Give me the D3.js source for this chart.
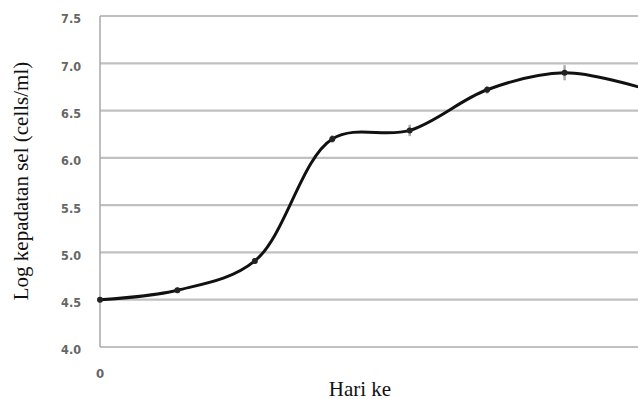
<!DOCTYPE html>
<html>
<head>
<meta charset="utf-8">
<script src="https://cdn.jsdelivr.net/npm/d3@7"></script>
<style>
  body { margin: 0; background: #fff; }
  svg { display: block; }
</style>
</head>
<body>
<div id="pic"></div>
<script>
// days and log cell density
var days = [0, 1, 2, 3, 4, 5, 6, 7];
var logDensity = [4.5, 4.6, 4.91, 6.2, 6.29, 6.72, 6.9, 6.74];
var errBar = [0.03, 0.03, 0.03, 0.04, 0.06, 0.04, 0.08, 0.03];
var yTicks = [4.0, 4.5, 5.0, 5.5, 6.0, 6.5, 7.0, 7.5];
var xTickLabels = ["0", "1", "2", "3", "4", "5", "6"];

var width = 638, height = 399;
var tickFont = "'Liberation Sans Narrow', 'DejaVu Sans Condensed', Arial, sans-serif";
var titleFont = "'Liberation Serif', 'Times New Roman', serif";

var svg = d3.select("#pic").append("svg")
    .attr("width", width)
    .attr("height", height);

var x = d3.scaleLinear().domain([0, 7]).range([100, 642]);
var y = d3.scaleLinear().domain([4.0, 7.5]).range([347, 16]);

// gridlines
svg.append("g")
    .selectAll("line")
    .data(yTicks)
    .enter().append("line")
    .attr("x1", 100)
    .attr("x2", width)
    .attr("y1", function(d) { return y(d); })
    .attr("y2", function(d) { return y(d); })
    .style("stroke", "#c0c0c0")
    .style("stroke-width", 2.2);

// y axis line
svg.append("line")
    .attr("x1", 100).attr("x2", 100)
    .attr("y1", y(7.5)).attr("y2", y(4.0))
    .style("stroke", "#a8a8a8")
    .style("stroke-width", 1.5);

// y tick labels
svg.append("g")
    .selectAll("text")
    .data(yTicks)
    .enter().append("text")
    .attr("x", 81)
    .attr("y", function(d) { return y(d) + 3; })
    .attr("dy", ".35em")
    .attr("text-anchor", "end")
    .style("font-family", tickFont)
    .style("font-size", "12.5px")
    .style("font-weight", "bold")
    .style("fill", "#666")
    .text(function(d) { return d.toFixed(1); });

// x tick labels, the ones after 0 are cut off in the original
svg.append("clipPath").attr("id", "xcut")
    .append("rect").attr("x", 110).attr("y", 0).attr("width", width).attr("height", 369);

svg.append("text")
    .attr("x", x(0))
    .attr("y", 378)
    .attr("text-anchor", "middle")
    .style("font-family", tickFont)
    .style("font-size", "13px")
    .style("font-weight", "bold")
    .style("fill", "#666")
    .text(xTickLabels[0]);

svg.append("g")
    .attr("clip-path", "url(#xcut)")
    .selectAll("text")
    .data(xTickLabels.slice(1))
    .enter().append("text")
    .attr("x", function(d, i) { return x(i + 1); })
    .attr("y", 378)
    .attr("text-anchor", "middle")
    .style("font-family", tickFont)
    .style("font-size", "13px")
    .style("font-weight", "bold")
    .style("fill", "#666")
    .text(function(d) { return d; });

// axis titles
svg.append("text")
    .attr("transform", "translate(28,181) rotate(-90)")
    .attr("text-anchor", "middle")
    .style("font-family", titleFont)
    .style("font-size", "21px")
    .style("fill", "#111")
    .text("Log kepadatan sel (cells/ml)");

svg.append("text")
    .attr("x", 360)
    .attr("y", 396)
    .attr("text-anchor", "middle")
    .style("font-family", titleFont)
    .style("font-size", "21px")
    .style("fill", "#111")
    .text("Hari ke");

var points = days.map(function(d, i) { return { day: d, v: logDensity[i], e: errBar[i] }; });

// error bars
svg.append("g")
    .selectAll("line")
    .data(points)
    .enter().append("line")
    .attr("x1", function(d) { return x(d.day); })
    .attr("x2", function(d) { return x(d.day); })
    .attr("y1", function(d) { return y(d.v + d.e); })
    .attr("y2", function(d) { return y(d.v - d.e); })
    .style("stroke", "#aaa")
    .style("stroke-width", 2.5);

// smoothed line
var line = d3.line()
    .x(function(d) { return x(d.day); })
    .y(function(d) { return y(d.v); })
    .curve(d3.curveCatmullRom.alpha(0.5));

svg.append("path")
    .datum(points)
    .attr("d", line)
    .style("fill", "none")
    .style("stroke", "#111")
    .style("stroke-width", 3);

// markers
svg.append("g")
    .selectAll("circle")
    .data(points)
    .enter().append("circle")
    .attr("cx", function(d) { return x(d.day); })
    .attr("cy", function(d) { return y(d.v); })
    .attr("r", 3)
    .style("fill", "#222");
</script>
</body>
</html>
